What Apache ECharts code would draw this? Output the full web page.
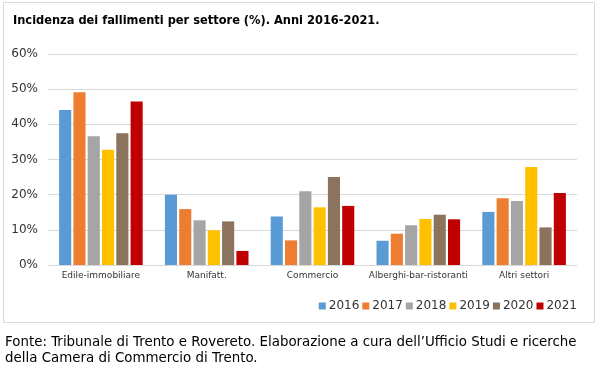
<!DOCTYPE html>
<html><head><meta charset="utf-8">
<script src="https://cdn.jsdelivr.net/npm/echarts@6/dist/echarts.min.js"></script>
<style>html,body{margin:0;padding:0;background:#fff}#c{width:600px;height:373px}</style>
</head><body><div id="c"></div>
<script>
const categories = ['Edile-immobiliare', 'Manifatt.', 'Commercio', 'Alberghi-bar-ristoranti', 'Altri settori'];
const years = ['2016', '2017', '2018', '2019', '2020', '2021'];
const v2016 = [44.1, 20.0, 13.8, 6.9, 15.1];
const v2017 = [49.1, 15.9, 7.0, 8.9, 19.0];
const v2018 = [36.6, 12.7, 21.0, 11.3, 18.2];
const v2019 = [32.8, 9.9, 16.4, 13.1, 27.9];
const v2020 = [37.5, 12.4, 25.0, 14.3, 10.7];
const v2021 = [46.5, 4.0, 16.8, 13.0, 20.5];
const yTicks = ['0%', '10%', '20%', '30%', '40%', '50%', '60%'];

const values = [v2016, v2017, v2018, v2019, v2020, v2021];
const colors = ['#5B9BD5', '#ED7D31', '#A5A5A5', '#FFC000', '#8B735D', '#C00000'];
const font = '"DejaVu Sans", sans-serif';

const chart = echarts.init(document.getElementById('c'), null, {renderer: 'canvas'});
chart.setOption({
  animation: false,
  title: {
    text: 'Incidenza dei fallimenti per settore (%). Anni 2016-2021.',
    left: 8, top: 9,
    textStyle: {fontFamily: '"DejaVu Sans Condensed", "DejaVu Sans", sans-serif', fontSize: 12.7, fontWeight: 'bold', color: '#000'}
  },
  legend: {
    data: years,
    right: 18, top: 295,
    itemWidth: 7, itemHeight: 7, itemGap: 3,
    icon: 'rect',
    textStyle: {fontFamily: font, fontSize: 12, color: '#333', padding: [0, 0, 0, -2]}
  },
  grid: {left: 48, right: 23, top: 54, bottom: 108, containLabel: false},
  xAxis: {
    type: 'category', data: categories,
    axisLine: {lineStyle: {color: '#d9d9d9'}},
    axisTick: {show: false},
    axisLabel: {interval: 0, fontFamily: font, fontSize: 9, color: '#333', margin: 6}
  },
  yAxis: {
    type: 'value', min: 0, max: 60, interval: 10,
    axisLabel: {fontFamily: font, fontSize: 12, color: '#333', margin: 10,
      formatter: v => yTicks[Math.round(v / 10)]},
    splitLine: {lineStyle: {color: '#d9d9d9'}},
    axisLine: {show: false}, axisTick: {show: false}
  },
  series: years.map((y, i) => ({
    name: y, type: 'bar', data: values[i],
    itemStyle: {color: colors[i]},
    barGap: '18%', barCategoryGap: '21%'
  })),
  graphic: [
    {type: 'rect', shape: {x: 3.5, y: 2.5, width: 591, height: 320},
     style: {fill: 'none', stroke: '#d9d9d9', lineWidth: 1}, z: -1},
    {type: 'text', left: 5, top: 335,
     style: {text: 'Fonte: Tribunale di Trento e Rovereto. Elaborazione a cura dell\u2019Ufficio Studi e ricerche\ndella Camera di Commercio di Trento.',
       fontFamily: font, fontSize: 13.4, lineHeight: 16, fill: '#000'}}
  ]
});
</script></body></html>
